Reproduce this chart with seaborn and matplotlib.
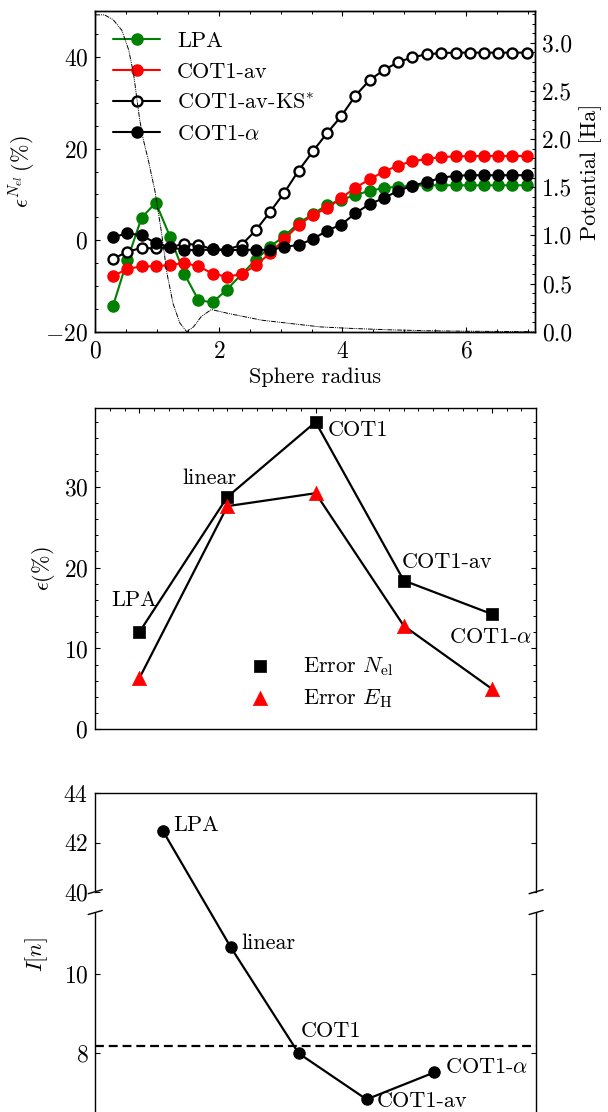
import numpy as np
import matplotlib
matplotlib.use("Agg")
import matplotlib.pyplot as plt
import seaborn as sns
from matplotlib.ticker import MultipleLocator, FixedLocator, NullLocator
from matplotlib.patches import ConnectionPatch

# ---------------- data ----------------
radius = [0.29, 0.52, 0.75, 0.98, 1.21, 1.44, 1.67, 1.90, 2.13, 2.37,
          2.60, 2.83, 3.06, 3.29, 3.52, 3.75, 3.98, 4.21, 4.44, 4.67,
          4.90, 5.13, 5.36, 5.59, 5.83, 6.06, 6.29, 6.52, 6.75, 6.98]
lpa = [-14.3, -4.3, 4.9, 8.2, 0.8, -7.3, -13.1, -13.6, -10.8, -7.4,
       -4.3, -1.4, 0.9, 3.7, 5.7, 7.7, 8.8, 9.9, 10.8, 11.4,
       11.7, 11.9, 12.0, 12.0, 12.0, 12.0, 12.0, 12.0, 12.0, 12.0]
cot1_av = [-7.8, -6.3, -5.7, -5.7, -5.4, -5.0, -5.7, -7.3, -8.0, -7.4,
           -5.5, -2.8, 0.2, 3.3, 5.5, 7.0, 9.2, 11.5, 13.3, 15.0,
           16.3, 17.3, 17.7, 18.2, 18.3, 18.4, 18.4, 18.4, 18.4, 18.4]
cot1_av_ks = [-4.1, -2.5, -1.7, -1.8, -1.5, -0.8, -1.0, -2.0, -2.1, -1.0,
              2.2, 6.2, 10.4, 15.2, 19.4, 23.4, 27.1, 31.6, 35.0, 37.2,
              38.9, 40.0, 40.6, 40.9, 41.0, 41.0, 41.0, 41.0, 41.0, 41.0]
cot1_alpha = [0.65, 1.5, 1.1, -0.65, -1.5, -2.1, -2.2, -2.0, -2.2, -2.1,
              -2.1, -2.1, -1.5, -1.0, 0.2, 2.1, 3.4, 5.9, 7.9, 9.2,
              10.8, 11.9, 12.7, 13.6, 14.1, 14.2, 14.2, 14.2, 14.2, 14.2]
pot_r = [0.0, 0.15, 0.29, 0.43, 0.54, 0.62, 0.67, 0.72, 0.78, 0.86, 0.97,
         1.075, 1.16, 1.26, 1.37, 1.48, 1.59, 1.72, 1.88, 2.15, 2.69, 3.23,
         3.64, 4.11, 4.74, 5.37, 6.0, 7.1]
pot_v = [3.29, 3.29, 3.24, 3.13, 2.93, 2.68, 2.44, 2.20, 1.99, 1.78, 1.45,
         1.02, 0.61, 0.29, 0.09, 0.0, 0.05, 0.16, 0.23, 0.19, 0.12, 0.08,
         0.05, 0.035, 0.02, 0.01, 0.005, 0.0]

methods = ["LPA", "linear", "COT1", "COT1-av", r"COT1-$\alpha$"]
err_nel = [12.0, 28.75, 38.0, 18.4, 14.25]
err_eh = [6.3, 27.6, 29.2, 12.8, 5.0]
I_n = [42.46, 10.67, 8.0, 6.84, 7.52]
I_ref = 8.18

# ---------------- style ----------------
sns.set_style("ticks")
FS = 16
TFS = 17
plt.rcParams.update({
    "font.family": "serif",
    "font.serif": ["cmr10"],
    "mathtext.fontset": "cm",
    "axes.formatter.use_mathtext": True,
    "axes.unicode_minus": True,
    "text.color": "black",
    "axes.labelcolor": "black",
    "axes.edgecolor": "black",
    "axes.linewidth": 1.0,
    "xtick.color": "black", "ytick.color": "black",
    "xtick.direction": "in", "ytick.direction": "in",
    "xtick.major.size": 3.5, "ytick.major.size": 3.5,
    "xtick.minor.size": 2.0, "ytick.minor.size": 2.0,
    "xtick.major.width": 0.8, "ytick.major.width": 0.8,
    "xtick.minor.width": 0.7, "ytick.minor.width": 0.7,
    "xtick.major.pad": 6.5, "ytick.major.pad": 5.0,
    "xtick.labelsize": TFS, "ytick.labelsize": TFS,
    "axes.labelsize": FS,
})

W, H = 608, 1112
fig = plt.figure(figsize=(W / 100, H / 100), dpi=100)


def box(l, t, r, b):
    return [l / W, 1 - b / H, (r - l) / W, (b - t) / H]


# ---------------- top panel ----------------
ax1 = fig.add_axes(box(95.2, 11, 535.3, 331.7))
ax1r = ax1.twinx()

ms = 8.0
lw = 1.5
sns.lineplot(x=radius, y=lpa, ax=ax1, color="#008000", lw=lw, marker="o",
             markersize=ms, markeredgecolor="#008000", markeredgewidth=1.0,
             label="LPA")
sns.lineplot(x=radius, y=cot1_av, ax=ax1, color="red", lw=lw, marker="o",
             markersize=ms, markeredgecolor="red", markeredgewidth=1.0,
             label="COT1-av")
sns.lineplot(x=radius, y=cot1_av_ks, ax=ax1, color="black", lw=lw, marker="o",
             markersize=ms - 0.8, markerfacecolor="white", markeredgecolor="black",
             markeredgewidth=1.7, label=r"COT1-av-KS$^{*}$")
sns.lineplot(x=radius, y=cot1_alpha, ax=ax1, color="black", lw=lw, marker="o",
             markersize=ms, markeredgecolor="black", markeredgewidth=1.0,
             label=r"COT1-$\alpha$")
sns.lineplot(x=pot_r, y=pot_v, ax=ax1r, color="black", lw=0.7,
             linestyle=(0, (5, 1, 1, 1, 1, 1)))

ax1.set_xlim(0, 7.12)
ax1.set_ylim(-20, 50.1)
ax1r.set_ylim(0, 3.33)
ax1.xaxis.set_major_locator(MultipleLocator(2))
ax1.xaxis.set_minor_locator(MultipleLocator(0.5))
ax1.yaxis.set_major_locator(MultipleLocator(20))
ax1.yaxis.set_minor_locator(MultipleLocator(5))
ax1r.yaxis.set_major_locator(MultipleLocator(0.5))
ax1r.yaxis.set_minor_locator(MultipleLocator(0.1))
ax1.tick_params(which="both", top=True, right=False, direction="in")
ax1r.tick_params(which="both", right=True, left=False, top=False, bottom=False,
                 direction="in")
ax1r.yaxis.set_major_formatter(matplotlib.ticker.FormatStrFormatter("%.1f"))
ax1.set_xlabel("Sphere radius", labelpad=3)
ax1.set_ylabel(r"$\epsilon^{N_{el}}\,(\%)$", labelpad=5)
ax1r.set_ylabel("Potential [Ha]", labelpad=5)
ax1.legend(loc="upper left", frameon=False, fontsize=FS,
           handlelength=2.1, handletextpad=0.77, labelspacing=0.5,
           borderaxespad=0.3, bbox_to_anchor=(0.006, 0.985))

# ---------------- middle panel ----------------
ax2 = fig.add_axes(box(95.2, 408.3, 536, 729.3))
pos = [0, 1, 2, 3, 4]
sns.lineplot(x=pos, y=err_nel, ax=ax2, color="black", lw=1.6)
sns.lineplot(x=pos, y=err_eh, ax=ax2, color="black", lw=1.6)
sns.scatterplot(x=pos, y=err_nel, ax=ax2, marker="s", s=85, color="black",
                edgecolor="black", linewidth=0.5, zorder=4,
                label=r"Error $N_{\rm el}$")
sns.scatterplot(x=pos, y=err_eh, ax=ax2, marker="^", s=105, color="red",
                edgecolor="red", linewidth=0.5, zorder=4,
                label=r"Error $E_{\rm H}$")
ax2.set_xlim(-0.5, 4.5)
ax2.set_ylim(0, 39.7)
ax2.yaxis.set_major_locator(MultipleLocator(10))
ax2.yaxis.set_minor_locator(MultipleLocator(2))
ax2.xaxis.set_major_locator(FixedLocator([0, 2, 4]))
ax2.xaxis.set_minor_locator(MultipleLocator(1 / 6))
ax2.tick_params(which="both", top=True, bottom=False, right=True,
                labelbottom=False, direction="in")
ax2.set_ylabel(r"$\epsilon(\%)$", labelpad=5)
mid_txt = [(-0.06, 15.9), (0.8, 31.1), (2.48, 37.0), (3.49, 20.6), (3.98, 11.4)]
for name, (tx, ty) in zip(methods, mid_txt):
    ax2.text(tx, ty, name, ha="center", va="center", fontsize=FS)
ax2.legend(loc="center", bbox_to_anchor=(0.50, 0.146), frameon=False,
           fontsize=FS, handlelength=2.0, handletextpad=0.9,
           labelspacing=0.4, scatterpoints=1)

# ---------------- bottom panel (broken axis) ----------------
ax3 = fig.add_axes(box(95.2, 793.3, 536.1, 891.7))
ax4 = fig.add_axes(box(95.2, 912.5, 536.1, 1120.8))
sns.scatterplot(x=pos[:1], y=I_n[:1], ax=ax3, color="black", s=70,
                edgecolor="black", zorder=4)
sns.lineplot(x=pos[1:], y=I_n[1:], ax=ax4, color="black", lw=1.6, marker="o",
             markersize=8.2, markeredgecolor="black")
ax4.axhline(I_ref, color="black", lw=1.6, ls=(0, (4, 2.2)))
for a in (ax3, ax4):
    a.set_xlim(-1.0, 5.5)
    a.xaxis.set_major_locator(NullLocator())
    a.xaxis.set_minor_locator(NullLocator())
    a.yaxis.set_major_locator(MultipleLocator(2))
    a.yaxis.set_minor_locator(NullLocator())
    a.tick_params(which="both", left=True, right=True, top=False,
                  bottom=False, direction="in")
ax3.set_ylim(40, 44)
ax4.set_ylim(6.3, 11.55)
ax3.spines["bottom"].set_visible(False)
ax4.spines["top"].set_visible(False)

con = ConnectionPatch(xyA=(pos[0], I_n[0]), coordsA=ax3.transData,
                      xyB=(pos[1], I_n[1]), coordsB=ax4.transData,
                      color="black", lw=1.6)
fig.add_artist(con)

# break marks
dx3, dy3 = 7 / 440.9, 2 / 98.4
dy4 = 2 / 208.3
for xc in (0, 1):
    ax3.plot([xc - dx3, xc + dx3], [-dy3, dy3], transform=ax3.transAxes,
             color="black", lw=1.0, clip_on=False)
    ax4.plot([xc - dx3, xc + dx3], [1 - dy4, 1 + dy4], transform=ax4.transAxes,
             color="black", lw=1.0, clip_on=False)

ax3.annotate(methods[0], (pos[0], I_n[0]), xytext=(7.2, 4.3),
             textcoords="offset points", ha="left", va="center", fontsize=FS)
bot_off = [(7.2, 3.2), (1.4, 15.6), (7.5, -1.2), (7.6, 4.0)]
for name, xx, yy, off in zip(methods[1:], pos[1:], I_n[1:], bot_off):
    ax4.annotate(name, (xx, yy), xytext=off, textcoords="offset points",
                 ha="left", va="center", fontsize=FS)

fig.text(37 / W, 1 - 955 / H, r"$I[n]$", rotation=90, ha="center",
         va="center", fontsize=FS)

fig.savefig("out.png", dpi=100)
